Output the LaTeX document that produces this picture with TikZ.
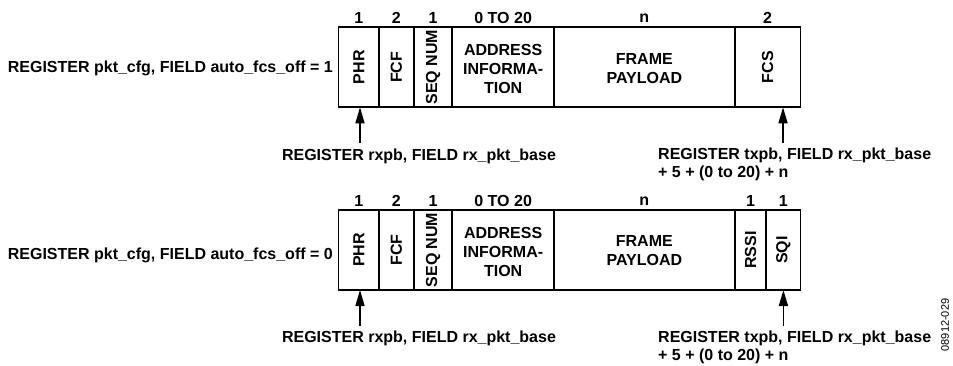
\documentclass[tikz,border=0pt]{standalone}
\usepackage{fontspec}
\setmainfont{Liberation Sans}
\usetikzlibrary{arrows.meta}
\begin{document}
\begin{tikzpicture}[x=1pt,y=-1pt,
  cell/.style={draw=black, line width=1.8pt, rectangle, inner sep=0pt, outer sep=0pt, minimum height=80pt},
  lbl/.style={font=\bfseries\fontsize{16}{19}\selectfont, inner sep=0pt, text=black},
  rlbl/.style={lbl, rotate=90},
  num/.style={lbl},
  arr/.style={line width=1.6pt, -{Triangle[length=16pt,width=9pt]}},
]
\useasboundingbox (0,0) rectangle (953,365);

% ---------- top frame ----------
\node[cell, minimum width=40.5pt] (phrA) at (358.75,67.3) {};
\node[cell, minimum width=34.7pt] (fcfA) at (396.35,67.3) {};
\node[cell, minimum width=38.6pt] (seqA) at (433.0,67.3) {};
\node[cell, minimum width=101.7pt] (adrA) at (503.15,67.3) {};
\node[cell, minimum width=180.7pt] (payA) at (644.35,67.3) {};
\node[cell, minimum width=65.8pt] (fcsA) at (767.6,67.3) {};

\node[rlbl] at (phrA.center) {PHR};
\node[rlbl] at (fcfA.center) {FCF};
\node[rlbl] at (seqA.center) {SEQ NUM};
\node[lbl, align=center] at ([yshift=-2pt]adrA.center) {ADDRESS\\INFORMA-\\TION};
\node[lbl, align=center] at ([yshift=-1pt]payA.center) {FRAME\\PAYLOAD};
\node[rlbl] at (fcsA.center) {FCS};

\node[num] at ([yshift=9pt]phrA.north) {1};
\node[num] at ([yshift=9pt]fcfA.north) {2};
\node[num] at ([yshift=9pt]seqA.north) {1};
\node[num] at ([yshift=9pt]adrA.north) {0 TO 20};
\node[num] at ([yshift=9pt]payA.north) {n};
\node[num] at ([yshift=9pt]fcsA.north) {2};

\node[lbl, anchor=east] (cfgA) at (333,68) {REGISTER pkt\_cfg, FIELD auto\_fcs\_off = 1};

\coordinate (tA1) at (360,143);
\coordinate (tA2) at (783,143);
\draw[arr] (tA1) -- (tA1 |- phrA.south);
\draw[arr] (tA2) -- (tA2 |- fcsA.south);
\node[lbl] (rxA) at (419,156) {REGISTER rxpb, FIELD rx\_pkt\_base};
\node[lbl, align=left, anchor=west, font=\bfseries\fontsize{16}{18}\selectfont] (txA) at (658,164.5) {REGISTER txpb, FIELD rx\_pkt\_base\\+ 5 + (0 to 20) + n};

% ---------- bottom frame ----------
\node[cell, minimum width=40.5pt] (phrB) at (358.75,250) {};
\node[cell, minimum width=34.7pt] (fcfB) at (396.35,250) {};
\node[cell, minimum width=38.6pt] (seqB) at (433.0,250) {};
\node[cell, minimum width=101.7pt] (adrB) at (503.15,250) {};
\node[cell, minimum width=180.7pt] (payB) at (644.35,250) {};
\node[cell, minimum width=31.6pt] (rssB) at (750.5,250) {};
\node[cell, minimum width=34.2pt] (sqiB) at (783.4,250) {};

\node[rlbl] at (phrB.center) {PHR};
\node[rlbl] at (fcfB.center) {FCF};
\node[rlbl] at (seqB.center) {SEQ NUM};
\node[lbl, align=center] at ([yshift=-2pt]adrB.center) {ADDRESS\\INFORMA-\\TION};
\node[lbl, align=center] at ([yshift=-1pt]payB.center) {FRAME\\PAYLOAD};
\node[rlbl] at (rssB.center) {RSSI};
\node[rlbl] at (sqiB.center) {SQI};

\node[num] at ([yshift=9pt]phrB.north) {1};
\node[num] at ([yshift=9pt]fcfB.north) {2};
\node[num] at ([yshift=9pt]seqB.north) {1};
\node[num] at ([yshift=9pt]adrB.north) {0 TO 20};
\node[num] at ([yshift=9pt]payB.north) {n};
\node[num] at ([yshift=9pt]rssB.north) {1};
\node[num] at ([yshift=9pt]sqiB.north) {1};

\node[lbl, anchor=east] (cfgB) at (333,255) {REGISTER pkt\_cfg, FIELD auto\_fcs\_off = 0};

\coordinate (tB1) at (360,325.7);
\coordinate (tB2) at (783.4,325.7);
\draw[arr] (tB1) -- (tB1 |- phrB.south);
\draw[arr] (tB2) -- (tB2 |- sqiB.south);
\node[lbl] (rxB) at (419,338.5) {REGISTER rxpb, FIELD rx\_pkt\_base};
\node[lbl, align=left, anchor=west, font=\bfseries\fontsize{16}{18}\selectfont] (txB) at (658,347) {REGISTER txpb, FIELD rx\_pkt\_base\\+ 5 + (0 to 20) + n};

\node[font=\fontsize{11}{13}\selectfont, rotate=90, inner sep=0pt] (fig) at (945,325) {08912-029};
\end{tikzpicture}
\end{document}
